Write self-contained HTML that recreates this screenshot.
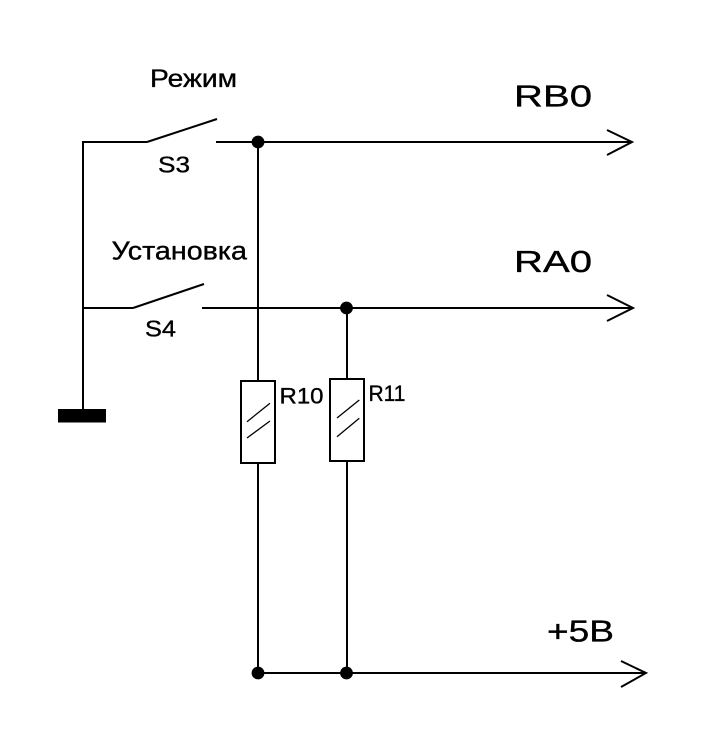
<!DOCTYPE html>
<html>
<head>
<meta charset="utf-8">
<style>
html,body{margin:0;padding:0;background:#fff;}
svg{display:block;}
text{font-family:"Liberation Sans","DejaVu Sans",sans-serif;fill:#000;stroke:#000;stroke-width:0.35;}
</style>
</head>
<body>
<svg width="704" height="745" viewBox="0 0 704 745" xmlns="http://www.w3.org/2000/svg">
<rect width="704" height="745" fill="#fff"/>
<g stroke="#000" stroke-width="2" fill="none" stroke-linecap="butt" shape-rendering="crispEdges">
  <!-- left ground wire -->
  <line x1="83" y1="141" x2="83" y2="410"/>
  <!-- S3 row -->
  <line x1="82" y1="142" x2="147" y2="142"/>
  <line x1="216" y1="142" x2="632" y2="142"/>
  <!-- S4 row -->
  <line x1="82" y1="308" x2="133" y2="308"/>
  <line x1="202" y1="308" x2="633" y2="308"/>
  <!-- R10 branch -->
  <line x1="258" y1="142" x2="258" y2="381"/>
  <rect x="241" y="381" width="34" height="82"/>
  <line x1="258" y1="463" x2="258" y2="673"/>
  <!-- R11 branch -->
  <line x1="347" y1="308" x2="347" y2="379"/>
  <rect x="330" y="379" width="34" height="82"/>
  <line x1="347" y1="461" x2="347" y2="673"/>
  <!-- bottom +5B -->
  <line x1="258" y1="673" x2="646" y2="673"/>
</g>
<g stroke="#000" stroke-width="2" fill="none">
  <line x1="147" y1="142" x2="217" y2="119"/>
  <line x1="133" y1="308" x2="204" y2="284"/>
  <polyline points="607,130 632,142 607,155"/>
  <polyline points="607,295 633,308 607,321"/>
  <polyline points="621,661 646,673 621,687"/>
</g>
<g stroke="#000" stroke-width="1.3" fill="none">
  <line x1="247" y1="421.7" x2="270" y2="403.3"/>
  <line x1="247" y1="438" x2="270" y2="421"/>
  <line x1="337" y1="418" x2="359.3" y2="400"/>
  <line x1="337" y1="436.7" x2="359.3" y2="418.3"/>
</g>
<!-- ground bar -->
<rect x="58" y="409" width="48" height="13.5" fill="#000"/>
<!-- junction dots -->
<g fill="#000">
  <circle cx="258" cy="142" r="6.4"/>
  <circle cx="346.5" cy="308" r="6.4"/>
  <circle cx="258" cy="673" r="6.4"/>
  <circle cx="346.5" cy="673" r="6.4"/>
</g>
<!-- labels -->
<text x="150" y="87" font-size="25" textLength="87" lengthAdjust="spacingAndGlyphs">Режим</text>
<text x="158" y="172.5" font-size="23" textLength="32" lengthAdjust="spacingAndGlyphs">S3</text>
<text x="111.5" y="259.5" font-size="26" textLength="135.5" lengthAdjust="spacingAndGlyphs">Установка</text>
<text x="145" y="336.5" font-size="23" textLength="31" lengthAdjust="spacingAndGlyphs">S4</text>
<text x="514" y="106.5" font-size="30.5" textLength="78" lengthAdjust="spacingAndGlyphs">RB0</text>
<text x="514" y="272" font-size="30.5" textLength="78" lengthAdjust="spacingAndGlyphs">RA0</text>
<text x="547" y="641.5" font-size="31" textLength="67" lengthAdjust="spacingAndGlyphs">+5B</text>
<text x="279.5" y="403.5" font-size="22.5" textLength="44" lengthAdjust="spacingAndGlyphs">R10</text>
<text x="368.5" y="401" font-size="22.5" textLength="37" lengthAdjust="spacingAndGlyphs">R11</text>
</svg>
</body>
</html>
